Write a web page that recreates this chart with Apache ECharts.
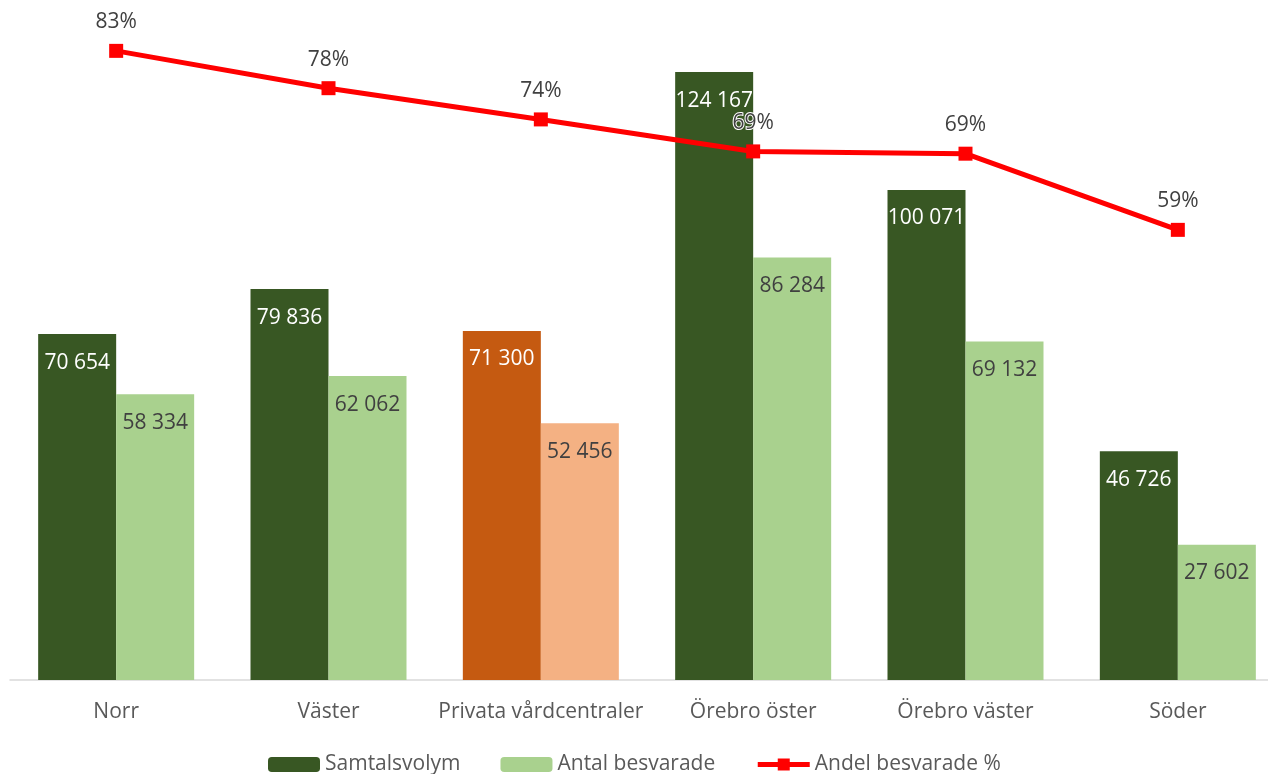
<!DOCTYPE html>
<html>
<head>
<meta charset="utf-8">
<script src="https://cdn.jsdelivr.net/npm/echarts@6/dist/echarts.min.js"></script>
<style>
  html, body { margin: 0; padding: 0; background: #fff; overflow: hidden; }
  /* the original picture is cropped at the top, right and bottom, so the canvas is larger than the window */
  #chart { position: absolute; left: 0; top: -6px; width: 1290px; height: 790px; }
</style>
</head>
<body>
<div id="chart"></div>
<script>
const categories = ['Norr', 'Väster', 'Privata vårdcentraler', 'Örebro öster', 'Örebro väster', 'Söder']
const samtalsvolym = [70654, 79836, 71300, 124167, 100071, 46726]
const antalBesvarade = [58334, 62062, 52456, 86284, 69132, 27602]
const andelBesvarade = [0.826, 0.777, 0.736, 0.694, 0.691, 0.591]

// Privata vårdcentraler is drawn in orange tones
const highlightIndex = 2

const FONT = '"Open Sans", "Noto Sans", sans-serif'

const chart = echarts.init(document.getElementById('chart'))

const barData = (values, color, hiColor) =>
  values.map((v, i) => ({
    value: v,
    itemStyle: { color: i === highlightIndex ? hiColor : color }
  }))

const fmtNum = p => p.value.toLocaleString('sv-SE').replace(/\s/g, ' ')

const option = {
  animation: false,
  textStyle: { fontFamily: FONT },
  grid: {
    left: 10,
    right: 6,
    top: 0.5,
    bottom: 104
  },
  legend: {
    top: 755,
    left: 263,
    itemWidth: 52,
    itemHeight: 15,
    itemGap: 40,
    textStyle: { color: '#595959', fontSize: 21, fontFamily: FONT },
    data: [
      { name: 'Samtalsvolym', itemStyle: { color: '#385723' } },
      { name: 'Antal besvarade', itemStyle: { color: '#a9d18e' } },
      { name: 'Andel besvarade %', lineStyle: { width: 5 } }
    ]
  },
  xAxis: {
    type: 'category',
    data: categories,
    axisLine: { lineStyle: { color: '#d9d9d9', width: 1.5 } },
    axisTick: { show: false },
    axisLabel: { color: '#595959', fontSize: 21, margin: 22, fontFamily: FONT, interval: 0 }
  },
  yAxis: [
    { type: 'value', min: 0, max: 140000, show: false, splitLine: { show: false } },
    { type: 'value', min: 0, max: 0.9, show: false, splitLine: { show: false } }
  ],
  series: [
    {
      name: 'Samtalsvolym',
      type: 'bar',
      barWidth: 78,
      barGap: '0%',
      itemStyle: { color: '#385723' },
      label: {
        show: true,
        position: 'insideTop',
        distance: 18,
        color: '#ffffff',
        fontSize: 21,
        fontFamily: FONT,
        formatter: fmtNum
      },
      data: barData(samtalsvolym, '#385723', '#c55a11')
    },
    {
      name: 'Antal besvarade',
      type: 'bar',
      barWidth: 78,
      barGap: '0%',
      itemStyle: { color: '#a9d18e' },
      label: {
        show: true,
        position: 'insideTop',
        distance: 18,
        color: '#404040',
        fontSize: 21,
        fontFamily: FONT,
        formatter: fmtNum
      },
      data: barData(antalBesvarade, '#a9d18e', '#f4b183')
    },
    {
      name: 'Andel besvarade %',
      type: 'line',
      yAxisIndex: 1,
      symbol: 'rect',
      symbolSize: 14,
      itemStyle: { color: '#ff0000' },
      lineStyle: { color: '#ff0000', width: 5 },
      label: {
        show: true,
        position: 'top',
        distance: 11,
        color: '#404040',
        fontSize: 21,
        fontFamily: FONT,
        textBorderColor: '#ffffff',
        textBorderWidth: 2,
        formatter: p => Math.round(p.value * 100) + '%'
      },
      z: 5,
      data: andelBesvarade
    }
  ]
}

chart.setOption(option)
window.addEventListener('resize', () => chart.resize())
</script>
</body>
</html>
